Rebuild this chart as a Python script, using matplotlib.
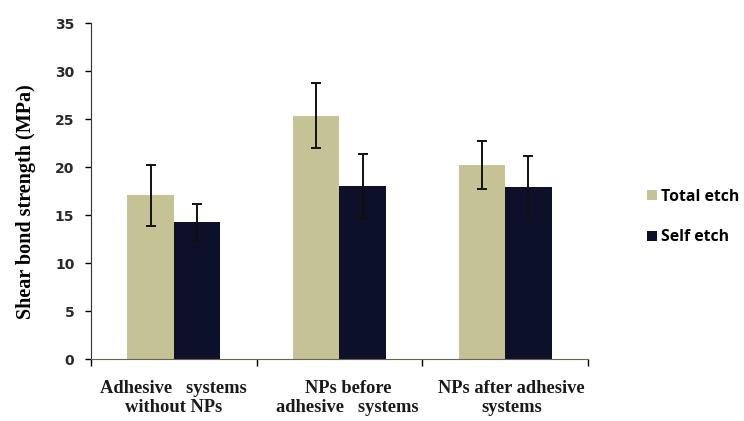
import numpy as np
import matplotlib
matplotlib.use("Agg")
import matplotlib.pyplot as plt

# data
categories = ["Adhesive   systems\nwithout NPs",
              "NPs before\nadhesive   systems",
              "NPs after adhesive\nsystems"]
series = ["Total etch", "Self etch"]
total_etch = [17.05, 25.35, 20.25]
total_err = [3.2, 3.4, 2.5]
self_etch = [14.25, 18.0, 17.9]
self_err = [1.9, 3.4, 3.3]
y_ticks = [0, 5, 10, 15, 20, 25, 30, 35]

tan = "#c5c295"
navy = "#0d1029"

fig = plt.figure(figsize=(7.44, 4.21), dpi=100)
ax = fig.add_axes([0.1223, 0.147, 0.668, 0.798])

x = np.arange(len(categories))
w = 0.28
ekw = dict(ecolor="#111111", elinewidth=1.4, capsize=3.5, capthick=1.4)
ax.bar(x - w / 2, total_etch, w, color=tan, label=series[0],
       yerr=total_err, error_kw=ekw)
ax.bar(x + w / 2, self_etch, w, color=navy, label=series[1],
       yerr=self_err, error_kw=ekw)

ax.set_xlim(-0.5, len(categories) - 0.5)
ax.set_ylim(0, 35)
ax.set_yticks(y_ticks)
ax.tick_params(axis="y", direction="out", length=4, width=1, pad=8,
               labelsize=10)
for lab in ax.get_yticklabels():
    lab.set_fontfamily("DejaVu Sans")
    lab.set_fontweight("bold")
    lab.set_color("#2a2a2a")

# category boundaries as minor ticks, labels placed by hand
ax.set_xticks(np.arange(len(categories) + 1) - 0.5, minor=True)
ax.tick_params(axis="x", which="minor", direction="out", length=5, width=1)
ax.set_xticks([])
label_shift = [0.0, 0.05, 0.04]
for i, c in enumerate(categories):
    ax.text(i + label_shift[i], -0.063, c, transform=ax.get_xaxis_transform(),
            ha="center", va="top", fontsize=13.3, fontweight="bold",
            family="Liberation Serif", color="#1a1a1a", linespacing=1.1)

for s in ["top", "right"]:
    ax.spines[s].set_visible(False)
ax.spines["left"].set_color("#333333")
ax.spines["bottom"].set_color("#6b6250")

ax.set_ylabel("Shear bond strength (MPa)", fontsize=14.5, fontweight="bold",
              family="Liberation Serif")
ax.yaxis.set_label_coords(-0.11, 0.47)

leg = ax.legend(loc="center left", bbox_to_anchor=(1.119, 0.423),
                frameon=False, borderpad=0, borderaxespad=0,
                handlelength=0.6, handleheight=0.6, handletextpad=0.3,
                labelspacing=1.55, prop=dict(family="Open Sans", weight="bold",
                                             size=11.3))

fig.savefig("out.png", dpi=100)
